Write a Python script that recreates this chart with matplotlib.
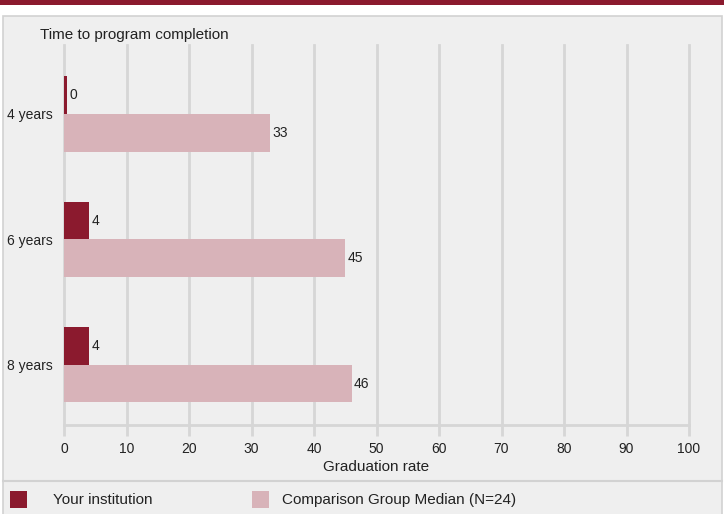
import numpy as np
import matplotlib.pyplot as plt
from matplotlib.patches import Rectangle
from matplotlib.lines import Line2D

plt.rcParams['font.family'] = ['Liberation Sans', 'DejaVu Sans']

# 数据
categories = ['4 years', '6 years', '8 years']
your_inst = [0, 4, 4]
comparison = [33, 45, 46]
xticks = [0, 10, 20, 30, 40, 50, 60, 70, 80, 90, 100]

dark = '#8B1A2E'
pink = '#D8B3B9'
grid_c = '#D6D6D6'
txt = '#222222'
W, H = 724, 514

fig = plt.figure(figsize=(W / 100, H / 100), dpi=100)
fig.patch.set_facecolor('white')

# 顶部深红色条
fig.add_artist(Rectangle((0, 1 - 5 / H), 1, 5 / H, transform=fig.transFigure,
                         facecolor=dark, edgecolor='none', zorder=-2))
# 灰色面板
fig.add_artist(Rectangle((3 / W, -0.01), 719 / W, 1 - 16 / H + 0.01, transform=fig.transFigure,
                         facecolor='#EFEFEF', edgecolor='#D2D2D2', linewidth=1.2, zorder=-2))
# 图例上方的分隔线
fig.add_artist(Line2D([3 / W, 722 / W], [1 - 481 / H] * 2, transform=fig.transFigure,
                      color='#D2D2D2', linewidth=1.5, zorder=-1))

ax = fig.add_axes([64 / W, 1 - 425 / H, 625 / W, 380 / H])
ax.set_facecolor('none')
ax.set_zorder(2)

y = np.arange(len(categories))
h = 0.30
inst_draw = [max(v, 0.4) for v in your_inst]
ax.barh(y - h / 2, inst_draw, height=h, color=dark, zorder=3)
ax.barh(y + h / 2, comparison, height=h, color=pink, zorder=3)

for yi, v, vd in zip(y, your_inst, inst_draw):
    ax.text(vd + 0.4, yi - h / 2, str(v), va='center', ha='left', fontsize=10, color=txt)
for yi, v in zip(y, comparison):
    ax.text(v + 0.4, yi + h / 2, str(v), va='center', ha='left', fontsize=10, color=txt)

ax.set_xlim(0, 100)
ax.set_ylim(2.48, -0.55)
ax.set_xticks(xticks)
ax.set_yticks(y)
ax.set_yticklabels(categories)
ax.grid(axis='x', color=grid_c, linewidth=2, zorder=1)
for gl in ax.get_xgridlines():
    gl.set_clip_on(False)
for s in ['top', 'right', 'left']:
    ax.spines[s].set_visible(False)
ax.spines['bottom'].set_color(grid_c)
ax.spines['bottom'].set_linewidth(2)
ax.tick_params(axis='x', length=8, width=2, color=grid_c, labelsize=10, pad=4, labelcolor=txt)
ax.tick_params(axis='y', length=0, labelsize=10, pad=8, labelcolor=txt)
ax.set_xlabel('Graduation rate', fontsize=11, labelpad=3, color=txt)

fig.text(40 / W, 1 - 35 / H, 'Time to program completion', fontsize=11, va='center', ha='left', color=txt)

# 图例
fig.add_artist(Rectangle((10 / W, 1 - 508 / H), 17 / W, 17 / H, transform=fig.transFigure,
                         facecolor=dark, edgecolor='none'))
fig.text(53 / W, 1 - 500 / H, 'Your institution', fontsize=11, va='center', ha='left', color=txt)
fig.add_artist(Rectangle((252 / W, 1 - 508 / H), 17 / W, 17 / H, transform=fig.transFigure,
                         facecolor=pink, edgecolor='none'))
fig.text(282 / W, 1 - 500 / H, 'Comparison Group Median (N=24)', fontsize=11, va='center', ha='left', color=txt)

plt.savefig('out.png', dpi=100)
